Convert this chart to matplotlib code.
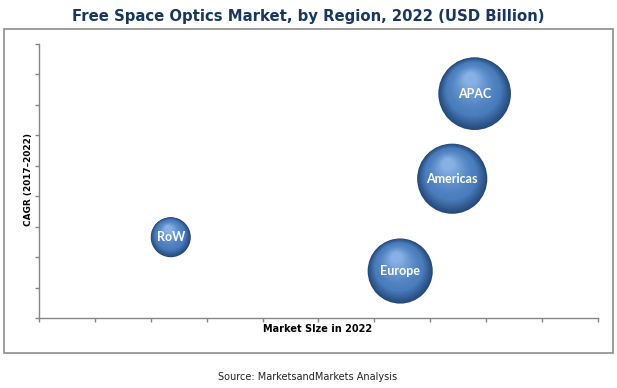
import numpy as np
import matplotlib
matplotlib.use('Agg')
import matplotlib.pyplot as plt
import matplotlib.patches as mpatches
from matplotlib.transforms import offset_copy
from matplotlib.colors import to_rgb

# Data (axis units are unlabeled, 0-10 on x, 0-9 on y)
regions = ['APAC', 'Americas', 'Europe', 'RoW']
market_size = [7.79, 7.39, 6.46, 2.36]     # x position
cagr = [7.37, 4.58, 1.55, 2.66]            # y position
bubble_size = [1.32, 1.23, 1.06, 0.40]     # relative bubble area

title = 'Free Space Optics Market, by Region, 2022 (USD Billion)'
xlabel = 'Market SIze in 2022'
ylabel = 'CAGR (2017\u20132022)'
source = 'Source: MarketsandMarkets Analysis'

dpi = 100
fig = plt.figure(figsize=(6.17, 3.88), dpi=dpi)
ax = fig.add_axes([0.0627, 0.1796, 0.907, 0.707])

# outer frame
fig.patches.append(mpatches.Rectangle((4.3 / 617, 1 - 352.7 / 388), (613 - 4.3) / 617, (352.7 - 29.3) / 388,
                                      transform=fig.transFigure, fill=False, edgecolor='#8c8c8c', lw=1.2))

edge_c = np.array(to_rgb('#26497a'))
mid_c = np.array(to_rgb('#4a7dbd'))
hi_c = np.array(to_rgb('#8ab4e6'))

def shade(t):
    # t: 0 at rim, 1 at highlight
    if t < 0.3:
        u = t / 0.3
        return edge_c + (mid_c - edge_c) * u
    u = ((t - 0.3) / 0.7) ** 1.5
    return mid_c + (hi_c - mid_c) * u

scale = 2073.6
n_layers = 40
for x, y, b, name in zip(market_size, cagr, bubble_size, regions):
    s = b * scale
    r_px = np.sqrt(s) / 2 * dpi / 72
    for i in range(n_layers):
        f = 1 - i / n_layers * 0.85
        t = (1 - f) / 0.85
        tr = offset_copy(ax.transData, fig=fig, x=-0.12 * r_px * t, y=0.42 * r_px * t, units='dots')
        ax.scatter([x], [y], s=s * f ** 2, color=shade(t), transform=tr,
                   edgecolors='none', zorder=2 + i * 0.01)
    ax.text(x, y, name, color='white', fontsize=9, fontweight='bold', family='Lato',
            ha='center', va='center', zorder=5)

ax.set_xlim(0, 10)
ax.set_ylim(0, 9)
ax.set_xticks(np.arange(0, 11, 1))
ax.set_yticks(np.arange(0, 10, 1))
ax.tick_params(axis='both', direction='out', length=3, width=1, color='#868686',
               labelbottom=False, labelleft=False)
for side in ['top', 'right']:
    ax.spines[side].set_visible(False)
for side in ['left', 'bottom']:
    ax.spines[side].set_color('#868686')
    ax.spines[side].set_linewidth(1)

fig.text(0.5, 1 - 16 / 388, title, ha='center', va='center', fontsize=10.7,
         fontweight='bold', color='#17375e')
fig.text(318 / 617, 1 - 329 / 388, xlabel, ha='center', va='center', fontsize=7,
         fontweight='bold', color='black')
fig.text(29 / 617, 1 - 180 / 388, ylabel, ha='center', va='center', fontsize=6.4,
         fontweight='bold', color='black', rotation=90)
fig.text(308 / 617, 1 - 377 / 388, source, ha='center', va='center', fontsize=7,
         color='#222222', family='Liberation Sans Narrow')

fig.savefig('out.png', dpi=dpi)
